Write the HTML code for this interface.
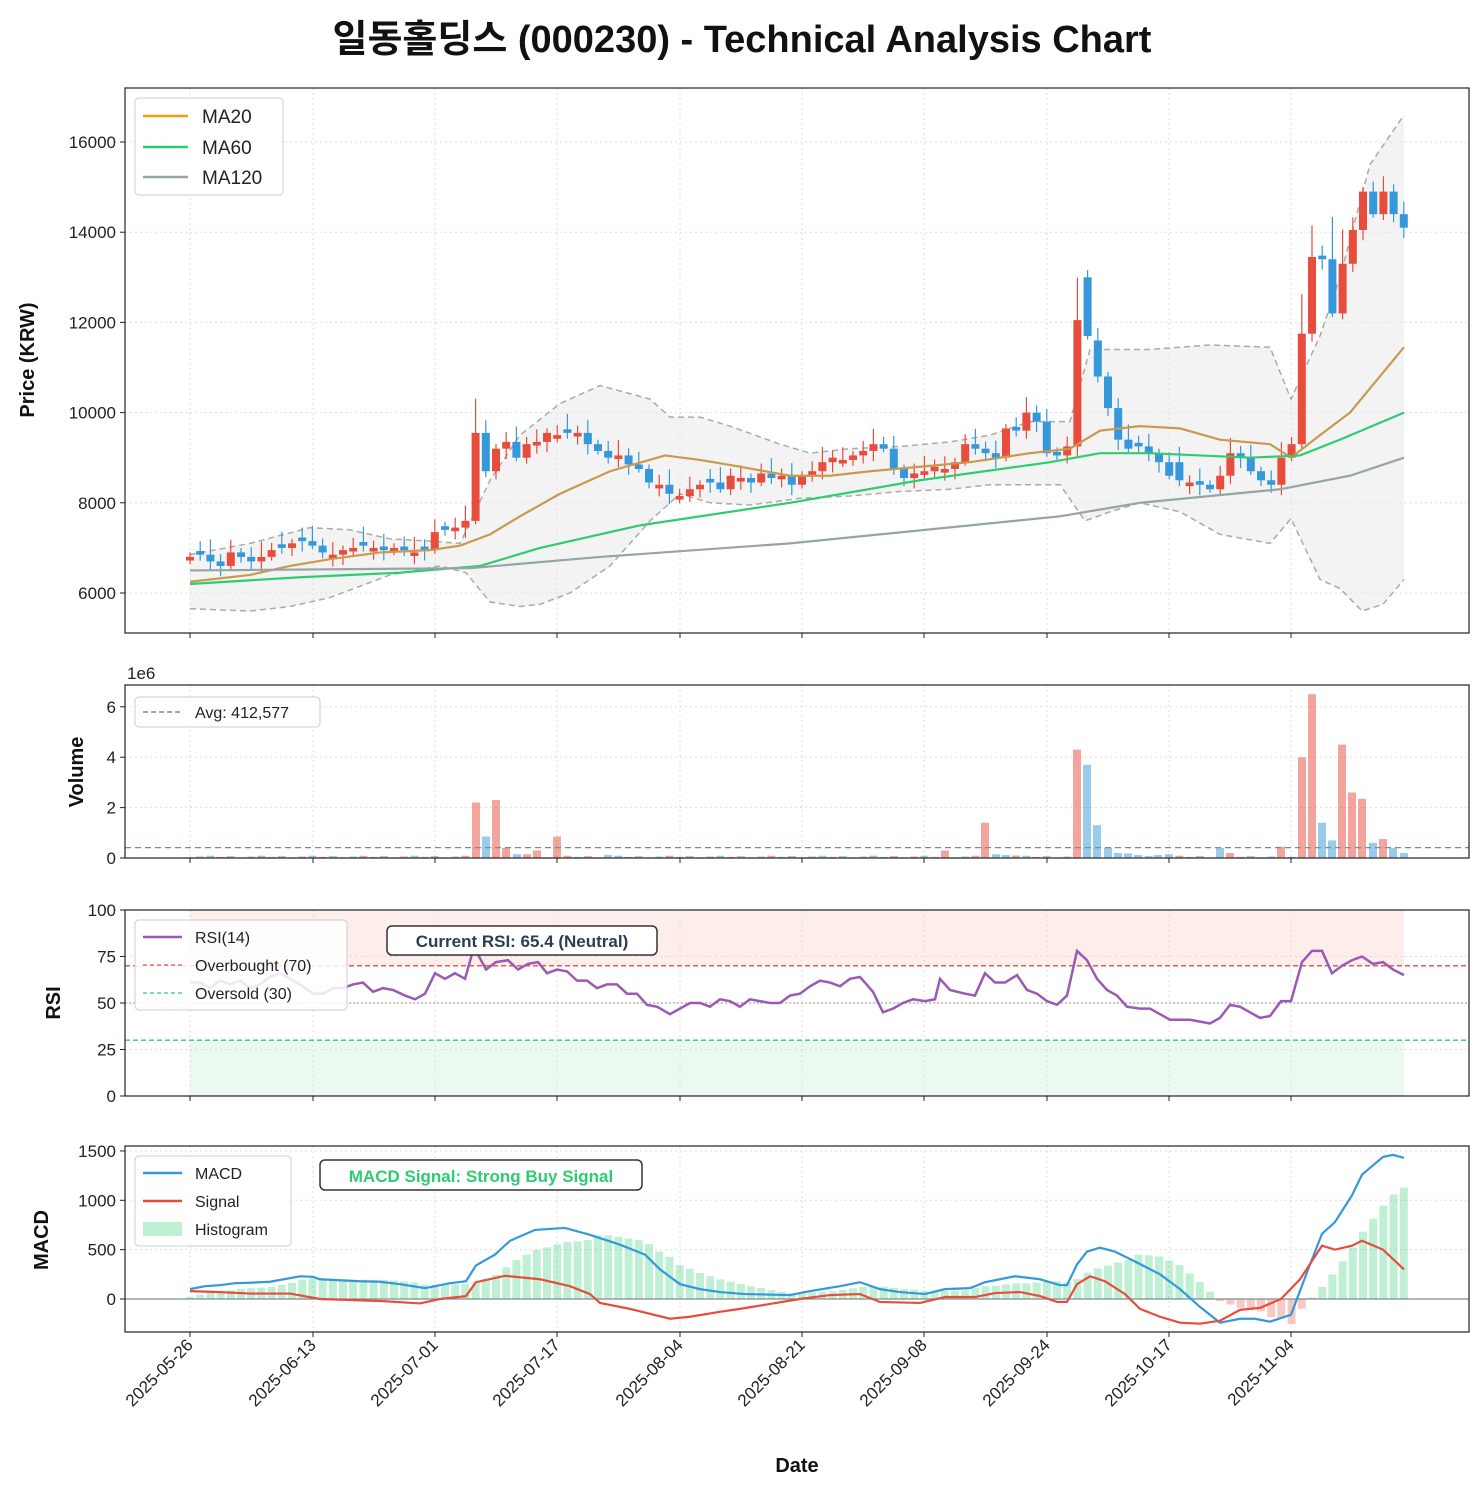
<!DOCTYPE html>
<html><head><meta charset="utf-8"><style>
body{margin:0;background:#fff;}
svg text{font-family:"Liberation Sans","Noto Sans CJK KR",sans-serif;}
</style></head><body>
<svg id="s" width="1483" height="1491" xmlns="http://www.w3.org/2000/svg"></svg>
<script>
const S=document.getElementById('s');let h='';
const X0=125,X1=1469;
const P={t:88,b:633},V={t:685,b:858},R={t:910,b:1096},M={t:1146,b:1332};
const py=v=>593-(v-6000)*0.0451, vy=v=>858-v*25.2, ry=v=>1096-v*1.86, my=v=>1299-v*0.0987;
const xi=i=>190+i*10.2;
const ticks=[190,313,435,557,680,802,924,1047,1169,1291];
const dates=['2025-05-26','2025-06-13','2025-07-01','2025-07-17','2025-08-04','2025-08-21','2025-09-08','2025-09-24','2025-10-17','2025-11-04'];
function grid(p,ys){ticks.forEach(x=>h+=`<line x1="${x}" x2="${x}" y1="${p.t}" y2="${p.b}" stroke="#ddd" stroke-dasharray="2,3"/>`);ys.forEach(y=>h+=`<line x1="${X0}" x2="${X1}" y1="${y}" y2="${y}" stroke="#ddd" stroke-dasharray="2,3"/>`);}
function frame(p){h+=`<rect x="${X0}" y="${p.t}" width="${X1-X0}" height="${p.b-p.t}" fill="none" stroke="#222" stroke-width="1.2"/>`;ticks.forEach(x=>h+=`<line x1="${x}" x2="${x}" y1="${p.b}" y2="${p.b+5}" stroke="#222"/>`);}
function yt(p,vals,f,lab){vals.forEach(v=>{const y=f(v);h+=`<line x1="${X0-5}" x2="${X0}" y1="${y}" y2="${y}" stroke="#222"/><text x="${X0-9}" y="${y+6}" font-size="17" text-anchor="end" fill="#222">${lab?lab(v):v}</text>`;});}
function poly(pts,f,col,w,extra=''){h+=`<polyline fill="none" stroke="${col}" stroke-width="${w}" ${extra} points="${pts.map(p=>p[0]+','+f(p[1])).join(' ')}"/>`;}
function interp(pts,x){for(let k=0;k<pts.length-1;k++){if(x>=pts[k][0]&&x<=pts[k+1][0]){const t=(x-pts[k][0])/(pts[k+1][0]-pts[k][0]);return pts[k][1]+t*(pts[k+1][1]-pts[k][1]);}}return pts[pts.length-1][1];}
// title
h+=`<text x="742" y="52" font-size="38" font-weight="bold" text-anchor="middle" fill="#111">일동홀딩스 (000230) - Technical Analysis Chart</text>`;
// PRICE
grid(P,[6000,8000,10000,12000,14000,16000].map(py));
const bu=[[190,6850],[250,7100],[310,7450],[350,7400],[390,7200],[430,7150],[460,7100],[490,8500],[520,9500],[560,10200],[600,10600],[650,10300],[670,9900],[700,9900],[730,9700],[780,9300],[810,9100],[850,9200],[900,9250],[950,9350],[990,9500],[1030,9800],[1070,9800],[1090,11400],[1150,11400],[1210,11500],[1270,11450],[1291,10300],[1320,11700],[1340,13000],[1370,15500],[1404,16600]];
const bl=[[190,5650],[250,5600],[290,5700],[330,5900],[390,6400],[440,6600],[466,6450],[490,5800],[520,5700],[540,5750],[570,6000],[610,6600],[650,7600],[680,8200],[710,8000],[750,7950],[800,8100],[850,8150],[900,8250],[950,8300],[990,8400],[1060,8400],[1085,7600],[1110,7800],[1140,8000],[1180,7800],[1220,7300],[1270,7100],[1291,7650],[1320,6300],[1340,6100],[1362,5600],[1383,5750],[1404,6300]];
h+=`<polygon fill="#e8e8e8" fill-opacity="0.5" points="${bu.map(p=>p[0]+','+py(p[1])).join(' ')} ${bl.slice().reverse().map(p=>p[0]+','+py(p[1])).join(' ')}"/>`;
poly(bu,py,'#aaa',1.5,'stroke-dasharray="6,4"');poly(bl,py,'#aaa',1.5,'stroke-dasharray="6,4"');
const C=[6800,6850,6700,6600,6900,6800,6700,6800,6950,7000,7100,7150,7050,6900,6850,6950,7000,7050,7000,6950,7000,6950,6900,6950,7350,7400,7450,7600,9550,8700,9200,9350,9000,9300,9350,9550,9500,9550,9550,9300,9150,9000,9050,8850,8750,8450,8400,8200,8150,8300,8400,8450,8300,8600,8550,8450,8650,8550,8600,8400,8600,8700,8900,9000,8950,9050,9150,9300,9200,8750,8550,8650,8700,8800,8750,8900,9300,9200,9100,9000,9650,9600,10000,9800,
9100,9050,9250,12050,11700,10800,10100,9400,9200,9250,9100,8900,8600,8500,8450,8400,8300,8600,9100,9000,8700,8500,8400,9000,9300,11750,13450,13400,12200,13300,14050,14900,14400,14900,14400,14100];
const OV={88:13000,89:11600,97:8900,109:9300};
let prev=6750;
for(let i=0;i<C.length;i++){const c=C[i];let o=OV[i]!==undefined?OV[i]:prev;if(Math.abs(c-o)<60)o=c+(i%2?80:-80);const up=c>=o;const col=up?'#e74c3c':'#3498db';const hi=Math.max(o,c)+100+((i*37)%5)*60+(Math.abs(c-prev)>1000?600:0),lo=Math.min(o,c)-80-((i*53)%4)*50;const x=xi(i);
h+=`<line x1="${x}" x2="${x}" y1="${py(hi)}" y2="${py(lo)}" stroke="${col}" stroke-width="1.2"/><rect x="${x-4}" y="${py(Math.max(o,c))}" width="8" height="${Math.max(1.5,Math.abs(py(o)-py(c)))}" fill="${col}"/>`;prev=c;}
poly([[190,6250],[250,6400],[290,6600],[330,6750],[380,6900],[430,6950],[460,7050],[490,7300],[520,7700],[560,8200],[610,8700],[665,9050],[700,8950],[740,8800],[790,8600],[830,8600],[870,8700],[920,8800],[970,8900],[1030,9100],[1070,9200],[1100,9600],[1140,9700],[1180,9650],[1220,9400],[1270,9300],[1291,9000],[1320,9500],[1350,10000],[1404,11450]],py,'#c99a4e',2.2);
poly([[190,6200],[300,6350],[400,6450],[480,6600],[540,7000],[640,7500],[790,8000],[920,8500],[1050,8900],[1100,9100],[1150,9100],[1250,9000],[1300,9050],[1340,9400],[1404,10000]],py,'#2ecc71',2.2);
poly([[190,6500],[470,6550],[600,6800],[790,7100],[970,7500],[1060,7700],[1140,8000],[1280,8300],[1350,8600],[1404,9000]],py,'#95a5a6',2.2);
frame(P);yt(P,[6000,8000,10000,12000,14000,16000],py);
h+=`<rect x="135" y="98" width="148" height="97" rx="4" fill="#fff" fill-opacity="0.85" stroke="#ccc"/>`;
[['MA20','#f39c12',116],['MA60','#2ecc71',147],['MA120','#95a5a6',177]].forEach(a=>h+=`<line x1="143" x2="188" y1="${a[2]}" y2="${a[2]}" stroke="${a[1]}" stroke-width="2.5"/><text x="202" y="${a[2]+7}" font-size="19" fill="#222">${a[0]}</text>`);
h+=`<text transform="translate(34,360) rotate(-90)" font-size="20" font-weight="bold" text-anchor="middle" fill="#111">Price (KRW)</text>`;
// VOLUME
grid(V,[0,2,4,6].map(vy));
const vb=[[476,2.2,1],[486,0.85,0],[496,2.3,1],[506,0.4,1],[517,0.15,0],[527,0.15,1],[537,0.3,1],[557,0.85,1],[608,0.12,0],[945,0.3,1],[985,1.4,1],[996,0.15,0],[1006,0.12,0],[1016,0.1,1],[1077,4.3,1],[1087,3.7,0],[1097,1.3,0],[1108,0.4,0],[1118,0.2,0],[1128,0.18,0],[1138,0.12,0],[1158,0.12,0],[1169,0.15,0],[1220,0.4,0],[1230,0.2,1],[1281,0.45,1],[1302,4.0,1],[1312,6.5,1],[1322,1.4,0],[1332,0.7,0],[1342,4.5,1],[1352,2.6,1],[1362,2.35,1],[1373,0.6,0],[1383,0.75,1],[1393,0.4,0],[1404,0.2,0]];
for(let i=0;i<120;i++){const x=xi(i);if(!vb.some(b=>Math.abs(b[0]-x)<5))vb.push([x,0.03+((i*7)%5)*0.015,i%2]);}
vb.forEach(b=>h+=`<rect x="${b[0]-4}" y="${vy(b[1])}" width="8" height="${b[1]*25.2}" fill="${b[2]?'#e74c3c':'#3498db'}" fill-opacity="0.5"/>`);
h+=`<line x1="${X0}" x2="${X1}" y1="${vy(0.412)}" y2="${vy(0.412)}" stroke="#7f8c8d" stroke-width="1.3" stroke-dasharray="6,4"/>`;
frame(V);yt(V,[0,2,4,6],vy);
h+=`<text x="127" y="679" font-size="17" fill="#222">1e6</text>`;
h+=`<rect x="135" y="697" width="185" height="30" rx="4" fill="#fff" fill-opacity="0.85" stroke="#ccc"/><line x1="143" x2="182" y1="712" y2="712" stroke="#7f8c8d" stroke-width="1.5" stroke-dasharray="5,3"/><text x="195" y="718" font-size="16" fill="#222">Avg: 412,577</text>`;
h+=`<text transform="translate(83,772) rotate(-90)" font-size="20" font-weight="bold" text-anchor="middle" fill="#111">Volume</text>`;
// RSI
h+=`<rect x="190" y="${ry(100)}" width="1214" height="${30*1.86}" fill="#e74c3c" fill-opacity="0.1"/><rect x="190" y="${ry(30)}" width="1214" height="${30*1.86}" fill="#2ecc71" fill-opacity="0.1"/>`;
grid(R,[0,25,50,75,100].map(ry));
h+=`<line x1="${X0}" x2="${X1}" y1="${ry(70)}" y2="${ry(70)}" stroke="#e74c3c" stroke-width="1.3" stroke-dasharray="5,3"/><line x1="${X0}" x2="${X1}" y1="${ry(30)}" y2="${ry(30)}" stroke="#2ecc71" stroke-width="1.3" stroke-dasharray="5,3"/><line x1="${X0}" x2="${X1}" y1="${ry(50)}" y2="${ry(50)}" stroke="#aaa" stroke-width="1.2" stroke-dasharray="2,2"/>`;
poly([[190,61],[200,61],[210,58],[220,62],[230,60],[240,62],[250,58],[260,60],[270,64],[280,66],[290,63],[300,60],[313,55],[323,55],[333,58],[343,58],[353,60],[363,61],[373,56],[383,58],[393,57],[405,54],[415,52],[425,55],[435,66],[445,63],[455,66],[465,63],[474,80],[486,68],[496,72],[508,73],[518,68],[528,71],[538,72],[547,66],[557,68],[567,67],[577,62],[587,62],[597,58],[607,60],[617,60],[627,55],[637,55],[647,49],[657,48],[670,44],[680,47],[690,50],[700,50],[710,48],[720,52],[730,51],[740,48],[750,52],[770,50],[780,50],[790,54],[800,55],[810,59],[820,62],[830,61],[840,59],[850,63],[860,64],[873,56],[883,45],[893,47],[903,50],[913,52],[925,51],[935,52],[940,63],[950,57],[965,55],[975,54],[985,66],[995,61],[1005,61],[1017,65],[1027,57],[1037,55],[1047,51],[1057,49],[1067,54],[1077,78],[1087,73],[1097,63],[1107,57],[1117,54],[1127,48],[1140,47],[1150,47],[1160,44],[1170,41],[1180,41],[1190,41],[1200,40],[1210,39],[1220,42],[1230,49],[1240,48],[1250,45],[1260,42],[1270,43],[1281,51],[1291,51],[1302,72],[1312,78],[1322,78],[1332,66],[1342,70],[1352,73],[1362,75],[1373,71],[1383,72],[1393,68],[1404,65]],ry,'#9b59b6',2.5);
frame(R);yt(R,[0,25,50,75,100],ry);
h+=`<rect x="135" y="920" width="212" height="90" rx="4" fill="#fff" fill-opacity="0.85" stroke="#ccc"/>
<line x1="143" x2="182" y1="937" y2="937" stroke="#9b59b6" stroke-width="2.5"/><text x="195" y="943" font-size="16" fill="#222">RSI(14)</text>
<line x1="143" x2="182" y1="965" y2="965" stroke="#e74c3c" stroke-width="1.3" stroke-dasharray="4,3"/><text x="195" y="971" font-size="16" fill="#222">Overbought (70)</text>
<line x1="143" x2="182" y1="993" y2="993" stroke="#2ecc71" stroke-width="1.3" stroke-dasharray="4,3"/><text x="195" y="999" font-size="16" fill="#222">Oversold (30)</text>`;
h+=`<rect x="387" y="926" width="270" height="29" rx="5" fill="#fff" stroke="#333" stroke-width="1.5"/><text x="522" y="947" font-size="17" font-weight="bold" text-anchor="middle" fill="#2c3e50">Current RSI: 65.4 (Neutral)</text>`;
h+=`<text transform="translate(60,1003) rotate(-90)" font-size="20" font-weight="bold" text-anchor="middle" fill="#111">RSI</text>`;
// MACD
grid(M,[0,500,1000,1500].map(my));
const md=[[190,100],[205,130],[220,140],[235,160],[250,165],[270,175],[300,230],[313,225],[320,200],[340,190],[360,180],[380,175],[400,150],[425,110],[450,160],[466,180],[476,340],[495,450],[510,590],[535,700],[565,720],[590,650],[620,550],[645,450],[660,300],[680,150],[700,100],[720,70],[745,50],[790,40],[810,80],[840,130],[860,170],[880,100],[900,70],[925,50],[945,100],[970,110],[985,170],[1015,230],[1040,200],[1060,140],[1067,140],[1077,350],[1087,480],[1100,520],[1115,480],[1135,380],[1160,250],[1180,100],[1200,-80],[1220,-240],[1240,-200],[1255,-200],[1270,-230],[1291,-160],[1310,350],[1322,660],[1335,780],[1352,1050],[1362,1260],[1383,1440],[1393,1460],[1404,1430]];
const sg=[[190,80],[220,70],[250,55],[290,55],[320,0],[380,-20],[420,-45],[440,0],[466,30],[476,170],[505,235],[540,200],[570,130],[590,50],[600,-40],[630,-100],[670,-200],[690,-180],[720,-130],[740,-100],[770,-50],[800,0],[830,40],[860,50],[880,-30],[920,-40],[945,20],[975,20],[995,60],[1020,70],[1040,30],[1057,-30],[1067,-30],[1077,150],[1090,230],[1105,180],[1125,50],[1140,-100],[1160,-180],[1180,-240],[1200,-250],[1220,-220],[1240,-110],[1260,-90],[1281,0],[1300,200],[1322,540],[1335,500],[1352,540],[1362,590],[1383,500],[1404,300]];
for(let i=0;i<120;i++){const x=xi(i);const d=interp(md,x)-interp(sg,x);h+=`<rect x="${x-4}" y="${d>0?my(d):my(0)}" width="8" height="${Math.abs(d)*0.0987}" fill="${d>0?'#2ecc71':'#e74c3c'}" fill-opacity="0.3"/>`;}
h+=`<line x1="${X0}" x2="${X1}" y1="${my(0)}" y2="${my(0)}" stroke="#7f8c8d" stroke-width="1.3"/>`;
poly(md,my,'#3498db',2.2);poly(sg,my,'#e74c3c',2.2);
frame(M);yt(M,[0,500,1000,1500],my);
h+=`<rect x="135" y="1156" width="156" height="90" rx="4" fill="#fff" fill-opacity="0.85" stroke="#ccc"/>
<line x1="143" x2="182" y1="1173" y2="1173" stroke="#3498db" stroke-width="2.5"/><text x="195" y="1179" font-size="16" fill="#222">MACD</text>
<line x1="143" x2="182" y1="1201" y2="1201" stroke="#e74c3c" stroke-width="2.5"/><text x="195" y="1207" font-size="16" fill="#222">Signal</text>
<rect x="143" y="1222" width="39" height="14" fill="#2ecc71" fill-opacity="0.3"/><text x="195" y="1235" font-size="16" fill="#222">Histogram</text>`;
h+=`<rect x="320" y="1160" width="322" height="30" rx="5" fill="#fff" stroke="#333" stroke-width="1.5"/><text x="481" y="1182" font-size="17" font-weight="bold" text-anchor="middle" fill="#2ecc71">MACD Signal: Strong Buy Signal</text>`;
h+=`<text transform="translate(48,1240) rotate(-90)" font-size="20" font-weight="bold" text-anchor="middle" fill="#111">MACD</text>`;
ticks.forEach((x,k)=>h+=`<text transform="translate(${x+4},${1346}) rotate(-45)" font-size="17" text-anchor="end" fill="#222">${dates[k]}</text>`);
h+=`<text x="797" y="1472" font-size="20" font-weight="bold" text-anchor="middle" fill="#111">Date</text>`;
S.innerHTML=h;
</script>
</body></html>
